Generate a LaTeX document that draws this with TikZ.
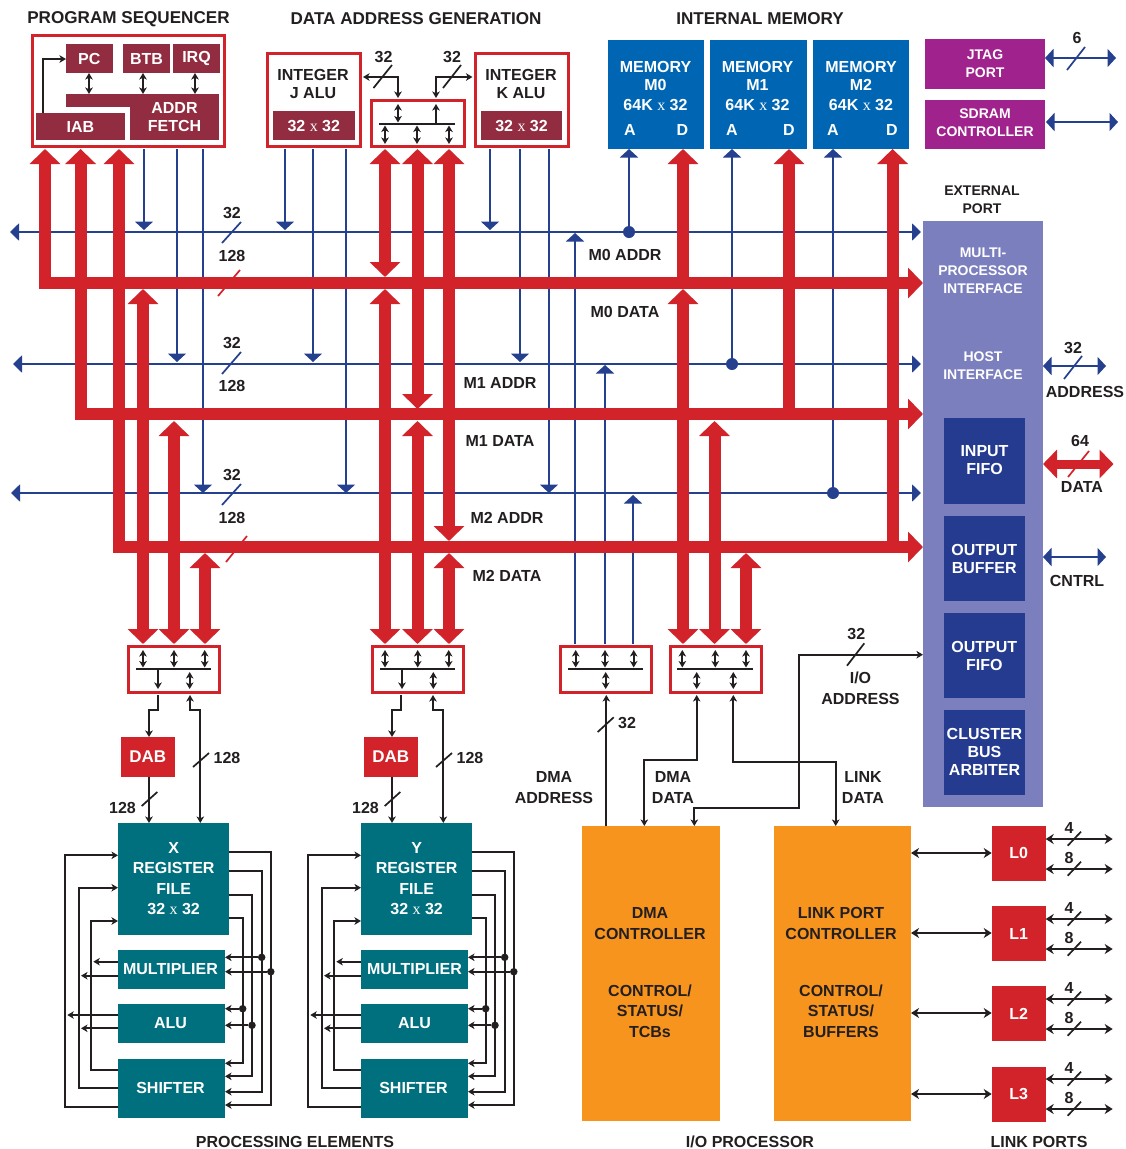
\documentclass[tikz,border=0pt]{standalone}
\usepackage{fontspec}
\setmainfont{Liberation Sans}
\newfontfamily\serifx{Liberation Serif}
\usetikzlibrary{arrows.meta}
\definecolor{ink}{HTML}{231F20}
\definecolor{ptred}{HTML}{D2232A}
\definecolor{maroon}{HTML}{922C40}
\definecolor{membl}{HTML}{0066B3}
\definecolor{purp}{HTML}{A0228D}
\definecolor{teal}{HTML}{00707F}
\definecolor{navy}{HTML}{243B8F}
\definecolor{lilac}{HTML}{7B7FBD}
\definecolor{oran}{HTML}{F7941E}
\definecolor{wireb}{HTML}{24408E}
\newcommand{\timesx}{{\serifx\mdseries x}}
\newcommand{\rbox}[7]{\pgfmathsetmacro\bw{#5-#3}\pgfmathsetmacro\bh{#6-#4}%
 \node[anchor=north west,minimum width=\bw pt,minimum height=\bh pt,inner sep=0pt,outer sep=0pt,align=center,#1] (#2) at (#3,#4) {#7};}
\newcommand{\lbl}[5][lab]{\node[#1] (#2) at (#3,#4) {#5};}
\newcommand{\tick}[5]{\draw[draw=#1,line width=1.7pt] (#2,#3) -- (#4,#5);}
\tikzset{
 lab/.style={align=center,inner sep=0pt,text=ink,yshift=-0.7pt,font=\fontsize{16}{18}\selectfont\bfseries},
 labs/.style={lab,font=\fontsize{14}{18}\selectfont\bfseries},
 labt/.style={lab,font=\fontsize{17.1}{18}\selectfont\bfseries},
 labo/.style={lab,font=\fontsize{16}{20.5}\selectfont\bfseries},
 wlab/.style={lab,text=white},
 wlabs/.style={labs,text=white},
 wt/.style={text=white,font=\fontsize{16}{18}\selectfont\bfseries},
 wtl/.style={text=white,font=\fontsize{16}{20.5}\selectfont\bfseries},
 redbox/.style={draw=ptred,fill=white,line width=3pt,outer sep=2.5pt,xshift=-2.5pt,yshift=2.5pt},
 mar/.style={fill=maroon,wt},
 blockbar/.style={fill=ink},
 dot/.style={circle,fill=#1,inner sep=0pt,minimum size=12pt},
 sdot/.style={circle,fill=ink,inner sep=0pt,minimum size=7.5pt},
 rtip/.tip={Triangle[length=15pt,width=30pt]},
 btip/.tip={Triangle[length=8.5pt,width=18pt]},
 ktip/.tip={Stealth[length=6.5pt,width=7.5pt,inset=1.8pt]},
 Ktip/.tip={Stealth[length=8pt,width=10pt,inset=2.5pt]},
 redbus/.style={draw=ptred,line width=12pt},
 bluebus/.style={draw=wireb,line width=1.8pt},
 wire/.style={draw=ink,line width=1.8pt},
}
\begin{document}
\begin{tikzpicture}[x=1pt,y=-1pt]
\useasboundingbox (0,0) rectangle (1125,1149);
\fill[white] (0,0) rectangle (1125,1149);

% ---------- titles
\lbl[labt]{tSeq}{128.5}{18.5}{PROGRAM SEQUENCER}
\lbl[labt]{tDag}{416}{18}{DATA ADDRESS GENERATION}
\lbl[labt]{tMem}{760}{18}{INTERNAL MEMORY}
\lbl{tPE}{295}{1141}{PROCESSING ELEMENTS}
\lbl{tIO}{750}{1141}{I/O PROCESSOR}
\lbl{tLP}{1039}{1141}{LINK PORTS}

% ---------- blocks (top)
\rbox{redbox}{seq}{32}{35}{224}{146.5}{}
\rbox{mar}{pcb}{66}{44}{112.5}{73}{PC}
\rbox{mar}{btb}{123}{44}{170}{73}{BTB}
\rbox{mar}{irq}{173}{44}{220}{73}{IRQ}
\rbox{fill=maroon}{afband}{66}{94}{219}{107}{}
\rbox{mar}{af}{130}{94}{219}{140}{ADDR\\FETCH}
\rbox{mar}{iab}{36}{113}{125}{140}{IAB}

\rbox{redbox}{ja}{267}{53.5}{360.5}{146.5}{}
\lbl{jat}{313}{83}{INTEGER\\J ALU}
\rbox{mar}{jr}{273}{111}{354.5}{140}{32 \timesx{} 32}
\rbox{redbox}{dag}{371.5}{100.5}{464}{146.5}{}
\rbox{redbox}{ka}{475}{53.5}{568.5}{146.5}{}
\lbl{kat}{521}{83}{INTEGER\\K ALU}
\rbox{mar}{kr}{481}{111}{562}{140}{32 \timesx{} 32}
\rbox{blockbar}{dagbar}{379}{123}{455}{125}{}

\rbox{fill=membl}{m0}{608}{40}{704}{149}{}
\rbox{fill=membl}{m1}{710}{40}{807}{149}{}
\rbox{fill=membl}{m2}{813}{40}{909}{149}{}
\foreach \n/\x/\xa/\xd in {0/655.5/630/682.5,1/757.5/732/789,2/861/833/892}{
 \node[wlab] (m\n t) at (\x,85) {MEMORY\\M\n\\[2pt]64K \timesx{} 32};
 \node[wlab] (m\n a) at (\xa,129) {A};
 \node[wlab] (m\n d) at (\xd,129) {D};
}
\rbox{fill=purp}{jtag}{925}{39}{1045}{89}{}
\lbl[wlabs]{jtagt}{985}{63}{JTAG\\PORT}
\rbox{fill=purp}{sdram}{925}{100}{1045}{149}{}
\lbl[wlabs]{sdramt}{985}{122}{SDRAM\\CONTROLLER}

% external port
\lbl[labs]{extt}{982}{199}{EXTERNAL\\PORT}
\rbox{fill=lilac}{port}{923}{221}{1043}{807}{}
\lbl[wlabs]{mpi}{983}{270}{MULTI-\\PROCESSOR\\INTERFACE}
\lbl[wlabs]{hif}{983}{365}{HOST\\INTERFACE}
\rbox{fill=navy}{ififo}{943.5}{418}{1025}{504}{}
\lbl[wlab]{ififot}{984.5}{459.5}{INPUT\\FIFO}
\rbox{fill=navy,wt}{obuf}{943.5}{516}{1025}{601}{OUTPUT\\BUFFER}
\rbox{fill=navy,wt}{ofifo}{943.5}{613}{1025}{698}{OUTPUT\\FIFO}
\rbox{fill=navy}{clus}{943.5}{710}{1025}{795}{}
\lbl[wlab]{clust}{984.5}{751}{CLUSTER\\BUS\\ARBITER}

% ---------- lower crossbar boxes
\rbox{redbox}{busX}{128}{646.5}{219.5}{692.5}{}
\rbox{redbox}{busY}{372}{646.5}{463.5}{692.5}{}
\rbox{redbox}{busA}{560}{646.5}{651.5}{692.5}{}
\rbox{redbox}{busD}{670}{646.5}{761.5}{692.5}{}

% ---------- blue address buses
\coordinate (b0L) at (10,232); \coordinate (b0R) at (921,232);
\coordinate (b1L) at (13,364); \coordinate (b1R) at (921,364);
\coordinate (b2L) at (11,493); \coordinate (b2R) at (921,493);
\foreach \b in {0,1,2}{\draw[bluebus,{btip[length=9pt,width=17pt]}-{btip[length=9pt,width=17pt]}] (b\b L) -- (b\b R);}
\draw[bluebus,-btip] (144,0 |- seq.south) -- (144,230);
\draw[bluebus,-btip] (285,0 |- ja.south) -- (285,230);
\draw[bluebus,-btip] (490,0 |- ka.south) -- (490,230);
\draw[bluebus,-btip] (177,0 |- seq.south) -- (177,362);
\draw[bluebus,-btip] (313,0 |- ja.south) -- (313,362);
\draw[bluebus,-btip] (520,0 |- ka.south) -- (520,362);
\draw[bluebus,-btip] (203,0 |- seq.south) -- (203,493);
\draw[bluebus,-btip] (346,0 |- ja.south) -- (346,493);
\draw[bluebus,-btip] (549,0 |- ka.south) -- (549,493);
\draw[bluebus,-btip] (575,0 |- busA.north) -- (575,233);
\draw[bluebus,-btip] (605,0 |- busA.north) -- (605,365);
\draw[bluebus,-btip] (633,0 |- busA.north) -- (633,495);
\node[dot=wireb] (d0) at (629,232) {};
\node[dot=wireb] (d1) at (732,364) {};
\node[dot=wireb] (d2) at (833,493) {};
\draw[bluebus,-btip] (d0) -- (629,0 |- m0.south);
\draw[bluebus,-btip] (d1) -- (732,0 |- m1.south);
\draw[bluebus,-btip] (d2) -- (833,0 |- m2.south);
\draw[bluebus,btip-btip] (jtag.east |- 0,58) -- (1116,58);
\draw[bluebus,btip-btip] (1046,122) -- (1118,122);
\draw[bluebus,btip-btip] (port.east |- 0,366) -- (1106,366);
\draw[bluebus,btip-btip] (port.east |- 0,557) -- (1106,557);
\tick{wireb}{222}{243}{241}{222}
\tick{wireb}{222}{374}{241}{352}
\tick{wireb}{222}{505}{241}{484}
\tick{wireb}{1067}{70}{1085}{47}
\tick{wireb}{1064}{379}{1082}{356}

% ---------- red data buses
\draw[redbus,rtip-rtip] (45,0 |- seq.south) -- (45,283) -- (port.west |- 0,283);
\draw[redbus,rtip-rtip] (80.6,0 |- seq.south) -- (80.6,414) -- (port.west |- 0,414);
\draw[redbus,rtip-rtip] (119,0 |- seq.south) -- (119,547) -- (port.west |- 0,547);
\draw[redbus,-rtip] (683,283) -- (683,0 |- m0.south);
\draw[redbus,-rtip] (789,414) -- (789,0 |- m1.south);
\draw[redbus,-rtip] (892.6,547) -- (892.6,0 |- m2.south);
\draw[redbus,rtip-rtip] (385,0 |- dag.south) -- (385,277);
\draw[redbus,rtip-rtip] (417.5,0 |- dag.south) -- (417.5,409);
\draw[redbus,rtip-rtip] (449,0 |- dag.south) -- (449,541);
\draw[redbus,rtip-rtip] (143,289) -- (143,0 |- busX.north);
\draw[redbus,rtip-rtip] (174,421) -- (174,0 |- busX.north);
\draw[redbus,rtip-rtip] (205,553) -- (205,0 |- busX.north);
\draw[redbus,rtip-rtip] (385,289) -- (385,0 |- busY.north);
\draw[redbus,rtip-rtip] (417.5,421) -- (417.5,0 |- busY.north);
\draw[redbus,rtip-rtip] (449,553) -- (449,0 |- busY.north);
\draw[redbus,rtip-rtip] (683,289) -- (683,0 |- busD.north);
\draw[redbus,rtip-rtip] (714.5,421) -- (714.5,0 |- busD.north);
\draw[redbus,rtip-rtip] (746,553) -- (746,0 |- busD.north);
\draw[redbus,line width=9pt,{rtip[length=14pt,width=28pt]}-{rtip[length=14pt,width=28pt]}] (port.east |- 0,464) -- (1113.5,464);
\tick{ptred}{218}{296}{240}{270}
\tick{ptred}{226}{562}{247}{536}
\tick{ptred}{1068}{477}{1089}{451}

% ---------- bus labels
\lbl{la0}{625}{254}{M0 ADDR}
\lbl{la1}{625}{311}{M0 DATA}
\lbl{la2}{500}{382}{M1 ADDR}
\lbl{la3}{500}{440}{M1 DATA}
\lbl{la4}{507}{517}{M2 ADDR}
\lbl{la5}{507}{575}{M2 DATA}
\lbl{n1}{232}{212}{32}
\lbl{n2}{232}{255}{128}
\lbl{n3}{232}{342}{32}
\lbl{n4}{232}{385}{128}
\lbl{n5}{232}{474}{32}
\lbl{n6}{232}{517}{128}
\lbl{n7}{383.5}{56}{32}
\lbl{n8}{452}{56}{32}
\lbl{n9}{1077}{37}{6}
\lbl{n10}{1073}{347}{32}
\lbl{n11}{1085}{391}{ADDRESS}
\lbl{n12}{1080}{440}{64}
\lbl{n13}{1082}{486}{DATA}
\lbl{n14}{1077}{580}{CNTRL}

% ---------- sequencer and DAG internals
\draw[wire,-ktip] (43,0 |- iab.north) -- (43,59) -- (pcb.west |- 0,59);
\draw[wire,ktip-ktip] (89,0 |- pcb.south) -- (89,0 |- afband.north);
\draw[wire,ktip-ktip] (143,0 |- btb.south) -- (143,0 |- afband.north);
\draw[wire,ktip-ktip] (195,0 |- irq.south) -- (195,0 |- afband.north);
\draw[wire,ktip-ktip] (ja.east |- 0,77) -- (398,77) -- (398,0 |- dag.north);
\draw[wire,ktip-ktip] (ka.west |- 0,77) -- (436,77) -- (436,0 |- dag.north);
\tick{ink}{373.5}{88}{392}{65}
\tick{ink}{443}{88}{461}{65}
\draw[wire,ktip-ktip,shorten >=6pt,shorten <=0.5pt] (398,0 |- dagbar.north) -- (398,0 |- dag.north);
\draw[wire,-ktip,shorten >=6pt] (436,0 |- dagbar.north) -- (436,0 |- dag.north);
\foreach \x in {385,417,449}{\draw[wire,ktip-ktip,shorten >=5pt,shorten <=0.5pt] (\x,0 |- dagbar.south) -- (\x,0 |- dag.south);}

% ---------- crossbar internals
\rbox{blockbar}{barX}{135.7}{668}{211}{670}{}
\rbox{blockbar}{barY}{379.7}{668}{455}{670}{}
\rbox{blockbar}{barA}{567.7}{668}{643}{670}{}
\rbox{blockbar}{barD}{677}{668}{753}{670}{}
\foreach \x/\B in {143/X,174/X,204.7/X,385/Y,417.7/Y,448.7/Y,575.7/A,605/A,633.7/A,682.3/D,715.3/D,746/D}{
 \draw[wire,ktip-ktip,shorten >=6pt,shorten <=0.5pt] (\x,0 |- bar\B.north) -- (\x,0 |- bus\B.north);}
\foreach \x/\B in {189.7/X,433.3/Y,605.7/A,696.7/D,733.3/D}{
 \draw[wire,ktip-ktip,shorten >=6pt,shorten <=2pt] (\x,0 |- bar\B.south) -- (\x,0 |- bus\B.south);}
\foreach \x/\B in {158/X,402/Y}{
 \draw[wire,-ktip,shorten >=6pt] (\x,0 |- bar\B.south) -- (\x,0 |- bus\B.south);}

% ---------- processing elements
\foreach \p/\dx/\ts in {X/0/-2pt,Y/243/0pt}{
\begin{scope}[xshift=\dx pt]
 \rbox{fill=teal,wtl}{\p reg}{118}{823}{229.3}{934.5}{\p\\REGISTER\\FILE\\32 \timesx{} 32}
 \rbox{fill=teal,wt}{\p mul}{118}{950}{225}{989}{\hspace*{\ts}MULTIPLIER}
 \rbox{fill=teal,wt}{\p alu}{118}{1004}{225}{1043}{\hspace*{\ts}ALU}
 \rbox{fill=teal,wt}{\p shf}{118}{1058.5}{225}{1118}{\hspace*{-2pt}SHIFTER}
 \rbox{fill=ptred,text=white,font=\fontsize{17}{18}\selectfont\bfseries}{\p dab}{120.5}{737}{175}{777}{DAB}
 \draw[wire,-ktip] (158,0 |- bus\p.south) -- (158,710) -- (149,710) -- (149,0 |- \p dab.north);
 \draw[wire,-ktip] (149,0 |- \p dab.south) -- (149,0 |- \p reg.north);
 \draw[wire,ktip-ktip] (200.3,0 |- \p reg.north) -- (200.3,710) -- (190,710) -- (190,0 |- bus\p.south);
 \tick{ink}{141.7}{806}{157.3}{792}
 \tick{ink}{193}{767}{209}{753}
 \lbl{\p num}{122.5}{807}{128}
 \lbl{\p numb}{227}{757}{128}
 % left feedback
 \draw[wire,-ktip] (\p shf.west |- 0,1107.3) -- (65,1107.3) -- (65,855.3) -- (\p reg.west |- 0,855.3);
 \draw[wire,-ktip] (\p shf.west |- 0,1088) -- (78.7,1088) -- (78.7,887.7) -- (\p reg.west |- 0,887.7);
 \draw[wire,-ktip] (\p shf.west |- 0,1069.7) -- (90.7,1069.7) -- (90.7,921) -- (\p reg.west |- 0,921);
 \draw[wire,-ktip] (\p mul.west |- 0,961.7) -- (93.3,961.7);
 \draw[wire,-ktip] (\p mul.west |- 0,975.7) -- (81,975.7);
 \draw[wire,-ktip] (\p alu.west |- 0,1015) -- (67.3,1015);
 \draw[wire,-ktip] (\p alu.west |- 0,1028.3) -- (81,1028.3);
 % right feedback
 \draw[wire,-ktip] (\p reg.east |- 0,851.7) -- (270.8,851.7) -- (270.8,1105) -- (\p shf.east |- 0,1105);
 \draw[wire,-ktip] (\p reg.east |- 0,871) -- (261.7,871) -- (261.7,1091.7) -- (\p shf.east |- 0,1091.7);
 \draw[wire,-ktip] (\p reg.east |- 0,894.7) -- (252,894.7) -- (252,1076.3) -- (\p shf.east |- 0,1076.3);
 \draw[wire,-ktip] (\p reg.east |- 0,918.3) -- (242.7,918.3) -- (242.7,1063.3) -- (\p shf.east |- 0,1063.3);
 \node[sdot] (\p t1) at (261.7,957.3) {};
 \node[sdot] (\p t2) at (270.8,971.7) {};
 \node[sdot] (\p t3) at (242.7,1008.7) {};
 \node[sdot] (\p t4) at (252,1025.3) {};
 \draw[wire,-ktip] (\p t1) -- (\p mul.east |- \p t1);
 \draw[wire,-ktip] (\p t2) -- (\p mul.east |- \p t2);
 \draw[wire,-ktip] (\p t3) -- (\p alu.east |- \p t3);
 \draw[wire,-ktip] (\p t4) -- (\p alu.east |- \p t4);
\end{scope}
}

% ---------- I/O processor
\rbox{fill=oran}{dma}{582}{826}{720}{1121}{}
\lbl[labo]{dmat}{650}{972}{DMA\\CONTROLLER\\[36.5pt]CONTROL/\\STATUS/\\TCBs}
\rbox{fill=oran}{lnk}{773.5}{826}{911}{1121}{}
\lbl[labo]{lnkt}{841}{972}{LINK PORT\\CONTROLLER\\[36.5pt]CONTROL/\\STATUS/\\BUFFERS}
\draw[wire,-ktip] (606.3,0 |- dma.north) -- (606.3,0 |- busA.south);
\tick{ink}{597.7}{732}{613.7}{717.3}
\lbl{n20}{627}{722}{32}
\draw[wire,ktip-ktip] (696.7,0 |- busD.south) -- (696.7,760) -- (644.3,760) -- (644.3,0 |- dma.north);
\draw[wire,ktip-ktip] (port.west |- 0,654.7) -- (798.7,654.7) -- (798.7,807.7) -- (694.3,807.7) -- (694.3,0 |- dma.north);
\draw[wire,ktip-ktip] (733.3,0 |- busD.south) -- (733.3,762) -- (835.7,762) -- (835.7,0 |- lnk.north);
\tick{ink}{847}{665.7}{864.3}{643.3}
\lbl{n21}{856.3}{633.3}{32}
\lbl{n22}{860.5}{687.5}{I/O\\[2.5pt]ADDRESS}
\lbl{n23}{554}{787}{DMA\\[2.5pt]ADDRESS}
\lbl{n24}{673}{787}{DMA\\[2.5pt]DATA}
\lbl{n25}{863}{787}{LINK\\[2.5pt]DATA}

% ---------- link ports
\foreach \n/\a/\b/\c/\d/\m in {0/825.7/880.7/839/869/853,1/906/961/919/949/933,2/986/1041/999/1029/1013,3/1066.7/1122/1079/1109/1094}{
 \rbox{fill=ptred,wt}{L\n}{991.7}{\a}{1045.7}{\b}{L\n}
 \draw[wire,Ktip-Ktip] (lnk.east |- 0,\m) -- (L\n.west |- 0,\m);
 \coordinate (e\n a) at (1112.7,\c);
 \coordinate (e\n b) at (1112.7,\d);
 \draw[wire,Ktip-Ktip] (L\n.east |- e\n a) -- (e\n a);
 \draw[wire,Ktip-Ktip] (L\n.east |- e\n b) -- (e\n b);
 \tick{ink}{1067.7}{\c+6.7}{1081}{\c-7.3}
 \tick{ink}{1067.7}{\d+6.7}{1081}{\d-7.3}
 \lbl{q\n a}{1069}{\c-12}{4}
 \lbl{q\n b}{1069}{\d-12}{8}
}
\end{tikzpicture}
\end{document}
